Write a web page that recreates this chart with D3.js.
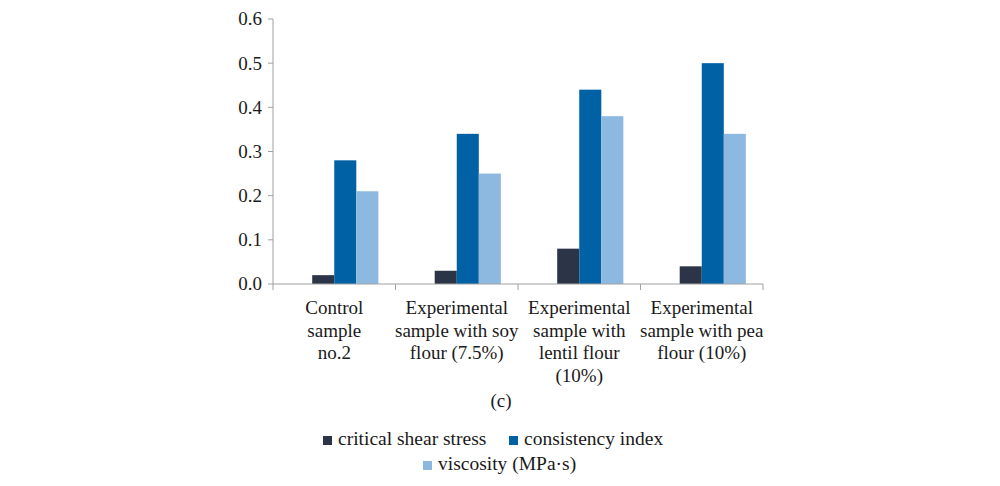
<!DOCTYPE html>
<html><head><meta charset="utf-8">
<script src="https://cdn.jsdelivr.net/npm/d3@7"></script>
</head><body style="margin:0">
<svg id="c" width="1000" height="486"></svg>
<script>
const categories = [
  ["Control","sample","no.2"],
  ["Experimental","sample with soy","flour (7.5%)"],
  ["Experimental","sample with","lentil flour","(10%)"],
  ["Experimental","sample with pea","flour (10%)"]
];
const seriesNames = ["critical shear stress","consistency index","viscosity (MPa·s)"];
const criticalShearStress = [0.02, 0.03, 0.08, 0.04];
const consistencyIndex = [0.28, 0.34, 0.44, 0.50];
const viscosity = [0.21, 0.25, 0.38, 0.34];
const yTicks = [0, 0.1, 0.2, 0.3, 0.4, 0.5, 0.6];
const colors = ["#2b3547", "#0062a5", "#8db9e1"];
const seriesValues = [criticalShearStress, consistencyIndex, viscosity];
const TXT = "#1a1a1a";

const svg = d3.select("#c");
const L = 273, R = 763, T = 19, B = 284;
const x0 = d3.scaleBand().domain(d3.range(categories.length)).range([L, R]).padding(0);
const bw = x0.bandwidth();
const x1 = d3.scaleBand().domain(["_spacer"].concat(seriesNames)).range([bw*0.14, bw*0.86]).padding(0);
const y = d3.scaleLinear().domain([0, 0.6]).range([B, T]);

categories.forEach((c, i) => {
  const g = svg.append("g").attr("transform", `translate(${x0(i)},0)`);
  seriesNames.forEach((s, j) => {
    const v = seriesValues[j][i];
    g.append("rect").attr("x", x1(s)).attr("width", x1.bandwidth())
      .attr("y", y(v)).attr("height", y(0) - y(v)).attr("fill", colors[j]);
  });
});

// y axis labels drawn manually
svg.append("line").attr("x1", L).attr("x2", L).attr("y1", T).attr("y2", B).attr("stroke", "#a0a0a0");
yTicks.forEach(t => {
  svg.append("line").attr("x1", L - 5).attr("x2", L).attr("y1", y(t)).attr("y2", y(t)).attr("stroke", "#a0a0a0");
  svg.append("text").attr("x", L - 11).attr("y", y(t)).attr("dy", "0.34em").attr("text-anchor", "end")
    .style("font-family", '"Tinos"').style("font-size", "19px").attr("fill", TXT).text(d3.format(".1f")(t));
});

svg.append("line").attr("x1", L).attr("x2", R).attr("y1", B).attr("y2", B).attr("stroke", "#a0a0a0");
d3.range(categories.length + 1).forEach(i => {
  const xx = i < categories.length ? x0(i) : R;
  svg.append("line").attr("x1", xx).attr("x2", xx).attr("y1", B).attr("y2", B + 6).attr("stroke", "#a0a0a0");
});
categories.forEach((lines, i) => {
  lines.forEach((ln, k) => {
    svg.append("text").attr("text-anchor", "middle")
      .style("font-family", '"Times New Roman"').style("font-size", "19px").attr("fill", TXT)
      .attr("x", x0(i) + bw/2).attr("y", 314 + k * 22.5).text(ln);
  });
});

svg.append("text").attr("x", 501).attr("y", 407).attr("text-anchor", "middle")
  .style("font-family", '"Liberation Serif"').style("font-size", "19px").attr("fill", TXT).text("(c)");

const legendItems = [
  {sq: 323, tx: 338, yy: 445},
  {sq: 509, tx: 524, yy: 445},
  {sq: 423, tx: 438, yy: 470}
];
seriesNames.forEach((s, j) => {
  const it = legendItems[j];
  svg.append("rect").attr("x", it.sq).attr("y", it.yy - 9).attr("width", 9).attr("height", 9).attr("fill", colors[j]);
  svg.append("text").attr("x", it.tx).attr("y", it.yy)
    .style("font-family", '"Liberation Serif"').style("font-size", "19.5px").attr("fill", TXT).text(s);
});
</script>
</body></html>
